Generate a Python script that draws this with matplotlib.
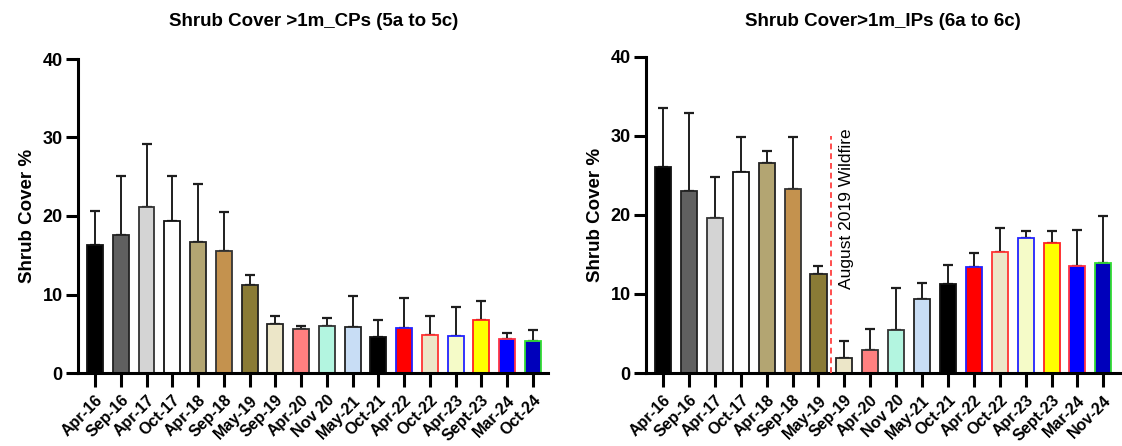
import matplotlib
matplotlib.use("Agg")
import matplotlib.pyplot as plt
import numpy as np

plt.rcParams['font.family'] = ['Liberation Sans', 'DejaVu Sans']

labels_cp = ["Apr-16", "Sep-16", "Apr-17", "Oct-17", "Apr-18", "Sep-18", "May-19", "Sep-19",
             "Apr-20", "Nov 20", "May-21", "Oct-21", "Apr-22", "Oct-22", "Apr-23", "Sept-23",
             "Mar-24", "Oct-24"]
labels_ip = ["Apr-16", "Sep-16", "Apr-17", "Oct-17", "Apr-18", "Sep-18", "May-19", "Sep-19",
             "Apr-20", "Nov 20", "May-21", "Oct-21", "Apr-22", "Oct-22", "Apr-23", "Sept-23",
             "Mar-24", "Nov-24"]

mean_cp = [16.25, 17.6, 21.2, 19.3, 16.75, 15.5, 11.15, 6.3, 5.55, 6.05, 5.9, 4.55, 5.75,
           4.85, 4.75, 6.75, 4.3, 4.05]
err_cp = [4.4, 7.55, 8.0, 5.8, 7.35, 5.0, 1.35, 1.0, 0.4, 0.9, 3.85, 2.2, 3.8, 2.45, 3.7,
          2.4, 0.75, 1.45]

mean_ip = [26.0, 23.0, 19.55, 25.4, 26.5, 23.3, 12.5, 1.95, 2.95, 5.4, 9.3, 11.2, 13.4,
           15.35, 17.05, 16.4, 13.5, 13.9]
err_ip = [7.45, 9.85, 5.2, 4.4, 1.6, 6.6, 1.0, 2.15, 2.65, 5.3, 2.1, 2.4, 1.8, 3.0, 0.95,
          1.55, 4.55, 5.9]

fills = ["#000000", "#606060", "#d4d4d4", "#ffffff", "#b3a572", "#c4924e", "#8a7b36",
         "#ece6c8", "#ff8080", "#b3f5e0", "#c8ddf5", "#000000", "#ff0000", "#ece6c8",
         "#f5fbc8", "#ffff00", "#0000ff", "#0000bb"]
edges = ["#111111", "#222222", "#333333", "#111111", "#222222", "#333333", "#222222",
         "#222222", "#333333", "#333333", "#222222", "#111111", "#2222ff", "#ff3333",
         "#2222ff", "#ff2222", "#ff3344", "#33dd33"]

W, H = 1122, 446
fig = plt.figure(figsize=(W/100, H/100), dpi=100)
ax1 = fig.add_axes([78/W, 1-373/H, (548-78)/W, (373-59)/H])
ax2 = fig.add_axes([646/W, 1-373/H, (1122-646)/W, (373-56.7)/H])


def draw(ax, labels, means, errs, xlim):
    x = np.arange(len(labels))
    ax.bar(x, means, width=0.62, color=fills, edgecolor=edges, linewidth=1.3, zorder=2)
    ax.errorbar(x, means, yerr=[np.zeros(len(errs)), errs], fmt='none', ecolor='#1e1e1e',
                elinewidth=1.4, capsize=3.4, capthick=1.6, zorder=1)
    ax.set_xticks(x)
    ax.set_xlim(*xlim)
    ax.set_ylim(0, 40)
    ax.set_yticks([0, 10, 20, 30, 40])
    ax.set_xticklabels(labels, rotation=45, ha='right', va='top', rotation_mode='anchor',
                       fontsize=11.5, fontweight='bold')
    for lab in ax.get_yticklabels():
        lab.set_fontweight('bold')
        lab.set_fontsize(13)
    ax.tick_params(axis='x', direction='out', length=10, width=2.2, pad=4)
    ax.tick_params(axis='y', direction='out', length=8.5, width=2.2, pad=2.5)
    for s in ['top', 'right']:
        ax.spines[s].set_visible(False)
    for s in ['left', 'bottom']:
        ax.spines[s].set_linewidth(2.2)
    ax.set_ylabel("Shrub Cover %", fontsize=13.5, fontweight='bold', labelpad=5)


draw(ax1, labels_cp, mean_cp, err_cp, (-0.66, 17.59))
draw(ax2, labels_ip, mean_ip, err_ip, (-0.66, 17.72))

ax2.plot([6.5, 6.5], [0, 30], color='#ff4d4d', linestyle=(0, (3, 2)), linewidth=1.4, zorder=3)
ax2.text(7.1, 10.6, "August 2019 Wildfire", rotation=90, ha='center', va='bottom',
         fontsize=12.5)

fig.text(314/W, 1-21/H, "Shrub Cover >1m_CPs (5a to 5c)", ha='center', va='center',
         fontsize=13.5, fontweight='bold')
fig.text(883/W, 1-21/H, "Shrub Cover>1m_IPs (6a to 6c)", ha='center', va='center',
         fontsize=13.5, fontweight='bold')

fig.savefig("out.png", dpi=100)
